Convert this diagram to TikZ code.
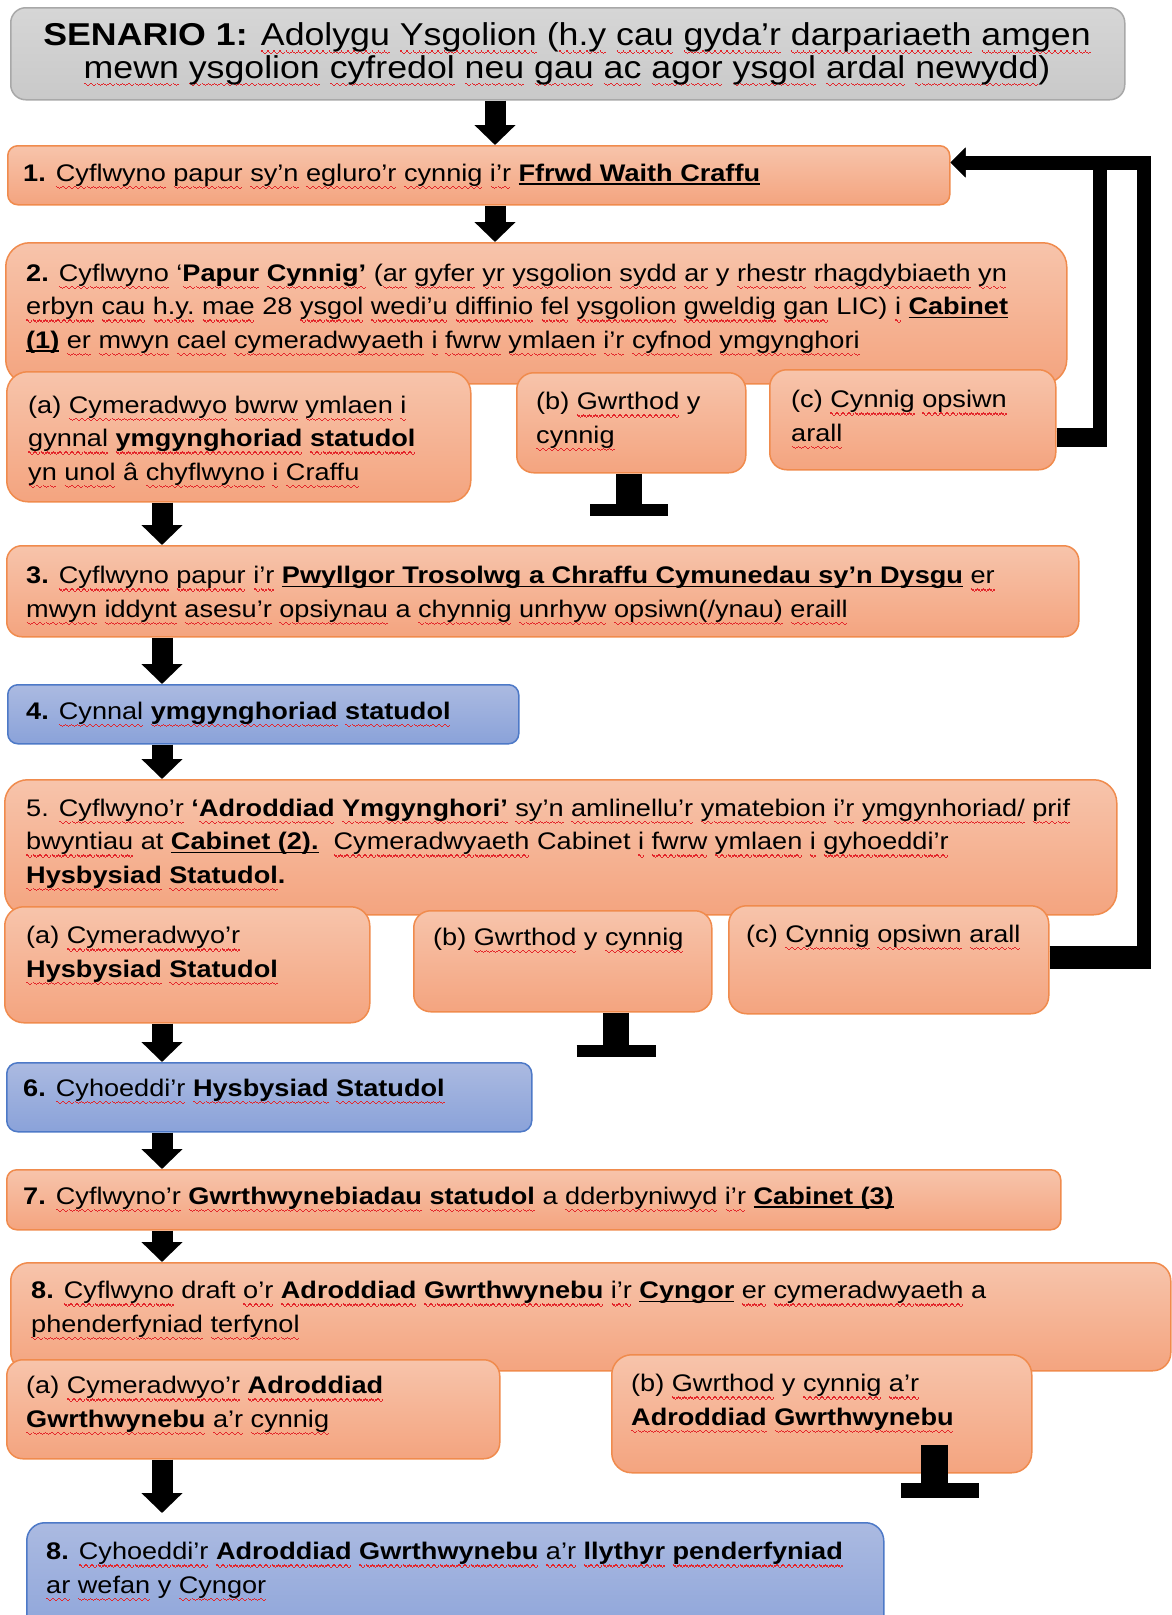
\documentclass[tikz,border=0pt]{standalone}
\usepackage{fontspec}
\setmainfont{Liberation Sans}[FakeStretch=1.13]
\usetikzlibrary{arrows.meta,calc}
\definecolor{orTop}{HTML}{F7C4AB}
\definecolor{orBot}{HTML}{F4A47F}
\definecolor{orLine}{HTML}{F08B4D}
\definecolor{blTop}{HTML}{ABBAE1}
\definecolor{blBot}{HTML}{8AA2D9}
\definecolor{blLine}{HTML}{4D79C7}
\definecolor{grTop}{HTML}{D6D6D6}
\definecolor{grBot}{HTML}{C9C9C9}
\definecolor{grLine}{HTML}{A8A8A8}
\definecolor{sqred}{HTML}{E3262B}
\newsavebox\sqbox
\newcommand\wavepiece{\hbox{\vrule width1.5pt height1.9pt depth-0.5pt\vrule width1.5pt height0.7pt depth0.7pt\vrule width1.5pt height-0.5pt depth1.9pt\vrule width1.5pt height0.7pt depth0.7pt}}
\newcommand\sq[1]{\sbox\sqbox{#1}\rlap{\lower6.5pt\hbox to\wd\sqbox{\color{sqred}\xleaders\wavepiece\hfill}}\usebox\sqbox}
\newcommand\ul[1]{\sbox\sqbox{#1}\rlap{\lower3.5pt\hbox{\vrule width\wd\sqbox height 1.5pt depth 0pt}}\usebox\sqbox}
\newcommand\mkbox[7]{\node[#1, rounded corners=#7pt, minimum width=#5pt-#3pt, minimum height=#6pt-#4pt, anchor=north west] (#2) at (#3,#4) {};}
\tikzset{
 obox/.style={draw=orLine, line width=1.5pt, top color=orTop, bottom color=orBot, inner sep=0pt},
 bbox/.style={draw=blLine, line width=1.5pt, top color=blTop, bottom color=blBot, inner sep=0pt},
 gbox/.style={draw=grLine, line width=1.5pt, top color=grTop, bottom color=grBot, inner sep=0pt},
 txt/.style={inner sep=0pt, align=left, anchor=base west, font=\fontsize{24}{33.5}\selectfont},
 flow/.style={line width=21pt, -{Triangle[width=40pt,length=20pt]}},
 fb/.style={line width=14pt, line join=miter, -{Triangle[width=29pt,length=15pt]}},
 tstem/.style={line width=26pt},
 tbar/.style={line width=12pt},
}
\begin{document}
\begin{tikzpicture}[x=1pt,y=-1pt]
\useasboundingbox (0,0) rectangle (1172,1615);
\clip (0,0) rectangle (1172,1615);
\fill[white] (0,0) rectangle (1172,1615);
% boxes
\mkbox{gbox}{title}{10}{7}{1124}{99}{15}
\mkbox{obox}{b1}{7}{145}{949}{204}{10}
\mkbox{obox}{b2}{5}{242}{1066}{383}{24}
\mkbox{obox}{a2}{6}{371}{470}{501}{21}
\mkbox{obox}{bb2}{516}{372}{745}{472}{17}
\mkbox{obox}{c2}{769}{369}{1055}{469}{17}
\mkbox{obox}{b3}{6}{545}{1078}{636}{15}
\mkbox{bbox}{b4}{7}{684}{518}{743}{10}
\mkbox{obox}{b5}{4}{779}{1116}{914}{23}
\mkbox{obox}{a5}{4}{906}{369}{1022}{19}
\mkbox{obox}{bb5}{413}{910}{711}{1011}{17}
\mkbox{obox}{c5}{728}{905}{1048}{1013}{18}
\mkbox{bbox}{b6}{6}{1062}{531}{1131}{11}
\mkbox{obox}{b7}{6}{1169}{1060}{1229}{10}
\mkbox{obox}{b8}{10}{1262}{1170}{1370}{18}
\mkbox{obox}{a8}{6}{1359}{499}{1458}{16}
\mkbox{obox}{bb8}{611}{1354}{1031}{1472}{20}
\mkbox{bbox}{fin}{26}{1522}{883}{1650}{18}
% texts (multi-line nodes are placed by the baseline of their last line)
\node[inner sep=0pt, align=center, anchor=base, font=\fontsize{31.6}{31}\selectfont] (tt) at (567,78)
 {\textbf{SENARIO 1:} \sq{Adolygu} \sq{Ysgolion} (\sq{h.y} \sq{cau} \sq{gyda’r} \sq{darpariaeth} \sq{amgen}\\
  \sq{mewn} \sq{ysgolion} \sq{cyfredol} \sq{neu} \sq{gau} \sq{ac} \sq{agor} \sq{ysgol} \sq{ardal} \sq{newydd})};
\node[txt] (t1) at (23,181) {\textbf{1.} \sq{Cyflwyno} \sq{papur} \sq{sy’n} \sq{egluro’r} \sq{cynnig} \sq{i’r} \textbf{\ul{Ffrwd Waith Craffu}}};
\node[txt] (t2) at (26,348) {\textbf{2.} \sq{Cyflwyno} ‘\textbf{\sq{Papur} \sq{Cynnig’}} (\sq{ar} \sq{gyfer} \sq{yr} \sq{ysgolion} \sq{sydd} \sq{ar} y \sq{rhestr} \sq{rhagdybiaeth} \sq{yn}\\
 \sq{erbyn} \sq{cau} \sq{h.y.} \sq{mae} 28 \sq{ysgol} \sq{wedi’u} \sq{diffinio} \sq{fel} \sq{ysgolion} \sq{gweldig} \sq{gan} LIC) \sq{i} \textbf{\ul{Cabinet}}\\
 \textbf{\ul{(1)}} \sq{er} \sq{mwyn} \sq{cael} \sq{cymeradwyaeth} \sq{i} \sq{fwrw} \sq{ymlaen} \sq{i’r} \sq{cyfnod} \sq{ymgynghori}};
\node[txt] (ta2) at (28,480) {(a) \sq{Cymeradwyo} \sq{bwrw} \sq{ymlaen} \sq{i}\\ \sq{gynnal} \textbf{\sq{ymgynghoriad} \sq{statudol}}\\ \sq{yn} \sq{unol} â \sq{chyflwyno} \sq{i} \sq{Craffu}};
\node[txt] (tb2) at (536,443) {(b) \sq{Gwrthod} y\\ \sq{cynnig}};
\node[txt] (tc2) at (791,441) {(c) \sq{Cynnig} \sq{opsiwn}\\ \sq{arall}};
\node[txt] (t3) at (26,617) {\textbf{3.} \sq{Cyflwyno} \sq{papur} \sq{i’r} \textbf{\ul{Pwyllgor Trosolwg a Chraffu Cymunedau sy’n Dysgu}} \sq{er}\\ \sq{mwyn} \sq{iddynt} \sq{asesu’r} \sq{opsiynau} a \sq{chynnig} \sq{unrhyw} \sq{opsiwn(/ynau)} \sq{eraill}};
\node[txt] (t4) at (26,719) {\textbf{4.} \sq{Cynnal} \textbf{\sq{ymgynghoriad} \sq{statudol}}};
\node[txt] (t5) at (26,883) {5. \sq{Cyflwyno’r} \textbf{‘\sq{Adroddiad} \sq{Ymgynghori’}} \sq{sy’n} \sq{amlinellu’r} \sq{ymatebion} \sq{i’r} \sq{ymgynhoriad/} \sq{prif}\\
 \sq{bwyntiau} at \textbf{\ul{Cabinet (2).}}\ \ \sq{Cymeradwyaeth} Cabinet \sq{i} \sq{fwrw} \sq{ymlaen} \sq{i} \sq{gyhoeddi’r}\\
 \textbf{\sq{Hysbysiad} \sq{Statudol}.}};
\node[txt] (ta5) at (26,977) {(a) \sq{Cymeradwyo’r}\\ \textbf{\sq{Hysbysiad} \sq{Statudol}}};
\node[txt] (tb5) at (433,945) {(b) \sq{Gwrthod} y \sq{cynnig}};
\node[txt] (tc5) at (746,942) {(c) \sq{Cynnig} \sq{opsiwn} \sq{arall}};
\node[txt] (t6) at (23,1096) {\textbf{6.} \sq{Cyhoeddi’r} \textbf{\sq{Hysbysiad} \sq{Statudol}}};
\node[txt] (t7) at (23,1204) {\textbf{7.} \sq{Cyflwyno’r} \textbf{\sq{Gwrthwynebiadau} \sq{statudol}} a \sq{dderbyniwyd} \sq{i’r} \textbf{\ul{Cabinet (3)}}};
\node[txt] (t8) at (31,1332) {\textbf{8.} \sq{Cyflwyno} draft \sq{o’r} \textbf{\sq{Adroddiad} \sq{Gwrthwynebu}} \sq{i’r} \textbf{\ul{Cyngor}} \sq{er} \sq{cymeradwyaeth} a\\ \sq{phenderfyniad} \sq{terfynol}};
\node[txt] (ta8) at (26,1427) {(a) \sq{Cymeradwyo’r} \textbf{\sq{Adroddiad}}\\ \textbf{\sq{Gwrthwynebu}} \sq{a’r} \sq{cynnig}};
\node[txt] (tb8) at (631,1425) {(b) \sq{Gwrthod} y \sq{cynnig} \sq{a’r}\\ \textbf{\sq{Adroddiad} \sq{Gwrthwynebu}}};
\node[txt] (tf) at (46,1593) {\textbf{8.} \sq{Cyhoeddi’r} \textbf{\sq{Adroddiad} \sq{Gwrthwynebu}} \sq{a’r} \textbf{\sq{llythyr} \sq{penderfyniad}}\\ \sq{ar} \sq{wefan} y \sq{Cyngor}};
% flow arrows
\coordinate (ax) at (495,0);
\coordinate (lx) at (162,0);
\draw[flow] (title.south -| ax) -- (b1.north -| ax);
\draw[flow] (b1.south -| ax) -- (b2.north -| ax);
\draw[flow] (a2.south -| lx) -- (b3.north -| lx);
\draw[flow] (b3.south -| lx) -- (b4.north -| lx);
\draw[flow] (b4.south -| lx) -- (b5.north -| lx);
\draw[flow] (a5.south -| lx) -- (b6.north -| lx);
\draw[flow] (b6.south -| lx) -- (b7.north -| lx);
\draw[flow] (b7.south -| lx) -- (b8.north -| lx);
\draw[flow] (a8.south -| lx) -- ($(fin.north -| lx)+(0,-9)$);
% T bars
\coordinate (tx2) at (629,0);
\coordinate (tx5) at (616,0);
\coordinate (tx8) at (934.5,0);
\draw[tstem] (bb2.south -| tx2) -- ++(0,32) coordinate (tbar2);
\draw[tbar] ($(tbar2)+(-39,4)$) -- ($(tbar2)+(39,4)$);
\draw[tstem] (bb5.south -| tx5) -- ++(0,34) coordinate (tbar5);
\draw[tbar] ($(tbar5)+(-39.5,4)$) -- ($(tbar5)+(39.5,4)$);
\draw[tstem, line width=27pt] ($(bb8.south -| tx8)+(0,-29)$) -- ++(0,41) coordinate (tbar8);
\draw[tbar, line width=15pt] ($(tbar8)+(-33.5,5)$) -- ($(tbar8)+(44.5,5)$);
% feedback lines
\coordinate (j1) at (1100,437.5);
\coordinate (j2) at (1144,957.5);
\coordinate (tp) at (0,162.5);
\draw[fb] (c2.east |- j1) -- (j1) -- (j1 |- tp) -- (b1.east |- tp);
\draw[fb] (c5.east |- j2) -- (j2) -- (j2 |- tp) -- (b1.east |- tp);
\draw[line width=19pt] (c2.east |- j1) -- ($(j1)+(7,0)$);
\draw[line width=23pt] (c5.east |- j2) -- ($(j2)+(7,0)$);
\end{tikzpicture}
\end{document}
